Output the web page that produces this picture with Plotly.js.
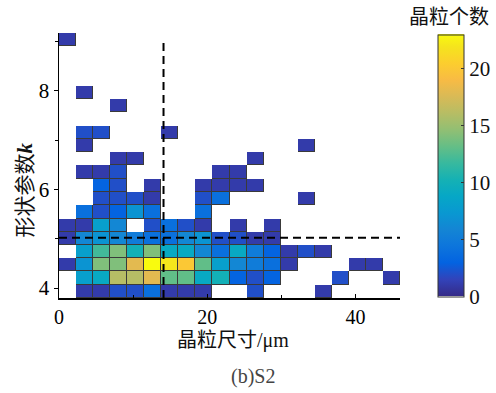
<!DOCTYPE html>
<html>
<head>
<meta charset="utf-8">
<script src="https://cdn.plot.ly/plotly-3.0.1.min.js"></script>
<style>html,body{margin:0;padding:0;background:#fff;}#chart{width:496px;height:393px;}</style>
</head>
<body>
<div id="chart"></div>
<script>
// ---- data ----
const xBinEdges = [0, 2.3, 4.6, 6.9, 9.2, 11.5, 13.8, 16.1, 18.4, 20.7, 23, 25.3, 27.6, 29.9, 32.2, 34.5, 36.8, 39.1, 41.4, 43.7, 46];
const yBinEdges = [3.80, 4.07, 4.34, 4.61, 4.87, 5.14, 5.41, 5.68, 5.95, 6.22, 6.49, 6.75, 7.02, 7.29, 7.56, 7.83, 8.10, 8.37, 8.63, 8.90, 9.17];
// grain counts per bin, bottom row first
const counts = [
  [0,1,1,2,2,4,1,1,1,0,0,2,0,0,0,1,0,0,0,0],
  [0,8,9,16,16,18,13,13,9,10,3,2,3,0,0,0,2,0,0,1],
  [1,7,14,14,18,23,22,20,13,8,6,5,4,1,0,0,0,1,1,0],
  [0,8,12,14,10,14,9,9,6,4,9,5,3,1,2,1,0,0,0,0],
  [1,6,7,6,5,4,4,6,7,2,2,1,1,0,0,0,0,0,0,0],
  [1,1,8,6,0,2,4,2,1,0,1,0,1,0,0,0,0,0,0,0],
  [0,4,2,3,7,4,0,0,4,0,0,0,0,0,0,0,0,0,0,0],
  [0,0,2,2,2,1,0,0,2,4,0,0,0,0,1,0,0,0,0,0],
  [0,0,3,2,0,1,0,0,1,1,1,1,0,0,0,0,0,0,0,0],
  [0,1,1,2,0,0,0,0,0,1,1,0,0,0,0,0,0,0,0,0],
  [0,0,0,1,1,0,0,0,0,0,0,1,0,0,0,0,0,0,0,0],
  [0,1,0,0,0,0,0,0,0,0,0,0,0,0,1,0,0,0,0,0],
  [0,2,2,0,0,0,1,0,0,0,0,0,0,0,0,0,0,0,0,0],
  [0,0,0,0,0,0,0,0,0,0,0,0,0,0,0,0,0,0,0,0],
  [0,0,0,1,0,0,0,0,0,0,0,0,0,0,0,0,0,0,0,0],
  [0,1,0,0,0,0,0,0,0,0,0,0,0,0,0,0,0,0,0,0],
  [0,0,0,0,0,0,0,0,0,0,0,0,0,0,0,0,0,0,0,0],
  [0,0,0,0,0,0,0,0,0,0,0,0,0,0,0,0,0,0,0,0],
  [0,0,0,0,0,0,0,0,0,0,0,0,0,0,0,0,0,0,0,0],
  [1,0,0,0,0,0,0,0,0,0,0,0,0,0,0,0,0,0,0,0]
];
const sizeThreshold = 14.1;   // vertical dashed line, µm
const shapeThreshold = 5.02;  // horizontal dashed line, k
const countMax = 23;
const xTitle = '晶粒尺寸/μm';
const yTitle = '形状参数<b><i>k</i></b>';
const cbTitle = '晶粒个数';
const caption = '(b)S2';

// ---- styles ----
const parula = [
  [0.000,'#352a87'],[0.0635,'#3243ba'],[0.127,'#0363e1'],[0.190,'#0d75dc'],
  [0.254,'#1485d4'],[0.317,'#0998d1'],[0.381,'#06a7c6'],[0.444,'#15b1b4'],
  [0.508,'#38b99e'],[0.571,'#65be86'],[0.635,'#92bf73'],[0.698,'#b7bd64'],
  [0.762,'#d9ba56'],[0.825,'#f8bb44'],[0.889,'#fcce2e'],[0.952,'#f5e41d'],
  [1.000,'#f9fb0e']
];
const serif = 'Liberation Serif, Times New Roman, Noto Sans CJK SC, serif';
const cjk = 'Liberation Serif, Noto Sans CJK SC, sans-serif';

const zMain = counts.map(r => r.map(v => v > 0 ? v : null));
const zEdge = counts.map(r => r.map(v => v > 0 ? 1 : null));

const traces = [
  { type:'heatmap', x:xBinEdges, y:yBinEdges, z:zEdge,
    colorscale:[[0,'#3a3a3a'],[1,'#3a3a3a']], showscale:false, hoverinfo:'skip' },
  { type:'heatmap', x:xBinEdges, y:yBinEdges, z:zMain,
    colorscale:parula, zmin:0, zmax:countMax, xgap:1, ygap:1,
    colorbar:{
      x:1.112, xanchor:'left', xpad:0, y:0.5, yanchor:'middle', ypad:0,
      thickness:26, lenmode:'pixels', len:262,
      outlinecolor:'#333', outlinewidth:1,
      tick0:0, dtick:5, ticks:'inside', ticklen:3, tickcolor:'#333',
      tickfont:{family:serif, size:21, color:'#111'}
    } }
];

const layout = {
  width:496, height:393,
  margin:{l:59, r:96, t:33, b:95, pad:0, autoexpand:false},
  paper_bgcolor:'#fff', plot_bgcolor:'#fff',
  showlegend:false,
  xaxis:{
    range:[0,46], showgrid:false, zeroline:false, automargin:false,
    showline:true, linecolor:'#000', linewidth:1.5, mirror:false,
    tick0:0, dtick:20, ticks:'inside', ticklen:4, tickcolor:'#000',
    minor:{dtick:10, ticks:'inside', ticklen:3, tickcolor:'#000'},
    tickfont:{family:serif, size:20, color:'#000'}
  },
  yaxis:{
    range:[3.80,9.17], showgrid:false, zeroline:false, automargin:false,
    showline:true, linecolor:'#000', linewidth:1.5, mirror:false,
    tick0:0, dtick:2, ticks:'outside', ticklen:4, tickcolor:'#000',
    minor:{dtick:1, ticks:'outside', ticklen:3, tickcolor:'#000'},
    tickfont:{family:serif, size:21, color:'#000'}
  },
  shapes:[
    { type:'line', xref:'x', yref:'paper', x0:sizeThreshold, x1:sizeThreshold, y0:0, y1:0.975,
      line:{color:'#000', width:2, dash:'8px,5px'} },
    { type:'line', xref:'paper', yref:'y', x0:0, x1:1, y0:shapeThreshold, y1:shapeThreshold,
      line:{color:'#000', width:2, dash:'8px,5px'} }
  ],
  annotations:[
    { text:xTitle, xref:'paper', yref:'paper', x:0.509, y:-0.162,
      xanchor:'center', yanchor:'middle', showarrow:false,
      font:{family:cjk, size:20, color:'#111'} },
    { text:yTitle, xref:'paper', yref:'paper', x:-0.0997, y:0.406, textangle:-90,
      xanchor:'center', yanchor:'middle', showarrow:false,
      font:{family:cjk, size:21, color:'#111'} },
    { text:cbTitle, xref:'paper', yref:'paper', x:1.1437, y:1.060,
      xanchor:'center', yanchor:'middle', showarrow:false,
      font:{family:cjk, size:20, color:'#111'} },
    { text:caption, xref:'paper', yref:'paper', x:0.569, y:-0.298,
      xanchor:'center', yanchor:'middle', showarrow:false,
      font:{family:serif, size:20, color:'#444'} }
  ]
};

Plotly.newPlot('chart', traces, layout, {displayModeBar:false, staticPlot:true});
</script>
</body>
</html>
